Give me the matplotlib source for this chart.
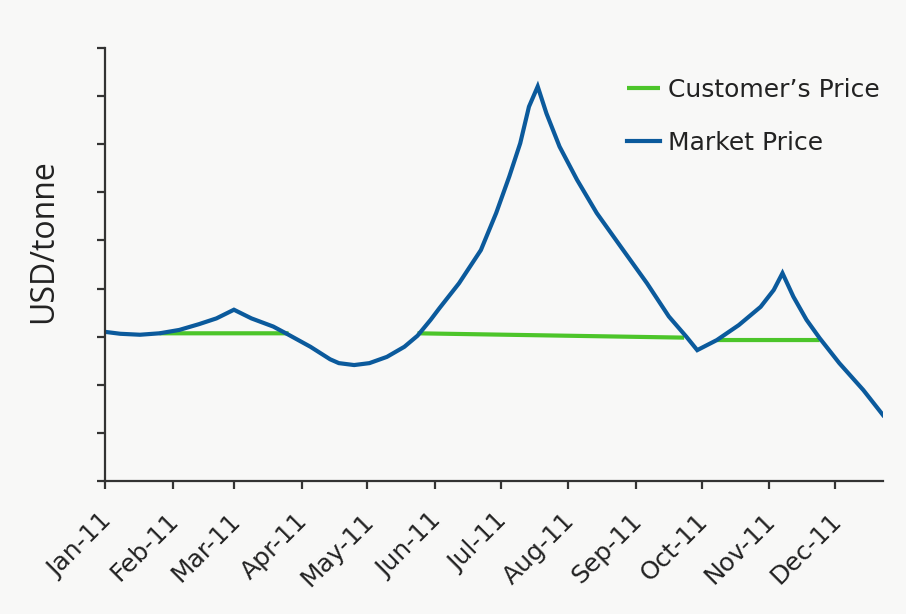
import matplotlib
matplotlib.use("Agg")
import matplotlib.pyplot as plt
import matplotlib.dates as mdates
from matplotlib.transforms import ScaledTranslation
import numpy as np
import pandas as pd

# market price (USD/tonne, axis units only - no labels on the y axis)
market_dates = ["2011-01-01", "2011-01-08", "2011-01-17", "2011-01-26", "2011-02-04",
                "2011-02-13", "2011-02-21", "2011-03-01", "2011-03-09", "2011-03-19",
                "2011-03-26", "2011-04-05", "2011-04-14", "2011-04-18", "2011-04-25",
                "2011-05-02", "2011-05-10", "2011-05-18", "2011-05-24", "2011-05-30",
                "2011-06-03", "2011-06-12", "2011-06-22", "2011-06-29", "2011-07-05",
                "2011-07-10", "2011-07-14", "2011-07-18", "2011-07-22", "2011-07-28",
                "2011-08-05", "2011-08-14", "2011-08-25", "2011-09-06", "2011-09-16",
                "2011-09-24", "2011-09-29", "2011-10-08", "2011-10-18", "2011-10-28",
                "2011-11-03", "2011-11-07", "2011-11-12", "2011-11-18", "2011-11-24",
                "2011-12-03", "2011-12-14", "2011-12-23"]
market_price = [3.10, 3.06, 3.04, 3.07, 3.14,
                3.26, 3.38, 3.56, 3.38, 3.21,
                3.04, 2.79, 2.53, 2.45, 2.41,
                2.45, 2.58, 2.79, 3.02, 3.35,
                3.59, 4.11, 4.80, 5.57, 6.33,
                7.02, 7.78, 8.20, 7.64, 6.95,
                6.26, 5.57, 4.87, 4.11, 3.42,
                3.00, 2.72, 2.93, 3.24, 3.62,
                3.97, 4.32, 3.83, 3.35, 2.97,
                2.45, 1.89, 1.37]

# customer's price, only shown where the market is above it
customer_dates = ["2011-01-26", "2011-03-26", "2011-03-27",
                  "2011-05-24", "2011-09-23", "2011-09-24",
                  "2011-10-08", "2011-11-24"]
customer_price = [3.07, 3.07, np.nan,
                  3.07, 2.98, np.nan,
                  2.93, 2.93]

month_ticks = pd.date_range("2011-01-01", "2011-12-01", freq="MS")

bg = "#f8f8f7"
fig = plt.figure(figsize=(9.06, 6.14), dpi=100, facecolor=bg)
ax = fig.add_axes([105 / 906, 1 - 481 / 614, (883 - 105) / 906, (481 - 48) / 614])
ax.set_facecolor(bg)

ax.plot(pd.to_datetime(customer_dates), customer_price, color="#4cc52a", lw=3.0,
        label="Customer\u2019s Price", solid_capstyle="butt")
ax.plot(pd.to_datetime(market_dates), market_price, color="#0b5a9c", lw=3.0,
        label="Market Price", solid_joinstyle="miter")

ax.set_xlim(pd.Timestamp("2011-01-01"), pd.Timestamp("2011-12-23"))
ax.set_ylim(0, 9)
ax.set_yticks(range(0, 10))
ax.set_yticklabels([])
ax.set_xticks(month_ticks)
ax.xaxis.set_major_formatter(mdates.DateFormatter("%b-%y"))

for s in ["top", "right"]:
    ax.spines[s].set_visible(False)
for s in ["left", "bottom"]:
    ax.spines[s].set_color("#333333")
    ax.spines[s].set_linewidth(1.6)
ax.tick_params(axis="both", direction="out", length=6, width=1.6, color="#333333")
ax.tick_params(axis="x", labelsize=18, labelcolor="#222222", pad=14)
shift = ScaledTranslation(-6 / 100, 0, fig.dpi_scale_trans)
for lab in ax.get_xticklabels():
    lab.set_rotation(45)
    lab.set_ha("right")
    lab.set_rotation_mode("anchor")
    lab.set_transform(lab.get_transform() + shift)

ax.set_ylabel("USD/tonne", fontsize=23, family="Open Sans", color="#222222")
ax.yaxis.set_label_coords((60 - 105) / 778, (481 - 241) / 433)

leg = ax.legend(loc="upper left", bbox_to_anchor=(627 / 906, 1 - 78 / 614),
                bbox_transform=fig.transFigure, frameon=False, fontsize=18,
                handlelength=1.32, handletextpad=0.3, labelspacing=1.15,
                borderpad=0, borderaxespad=0)
for t in leg.get_texts():
    t.set_color("#222222")

fig.savefig("out.png", dpi=100, facecolor=bg)
